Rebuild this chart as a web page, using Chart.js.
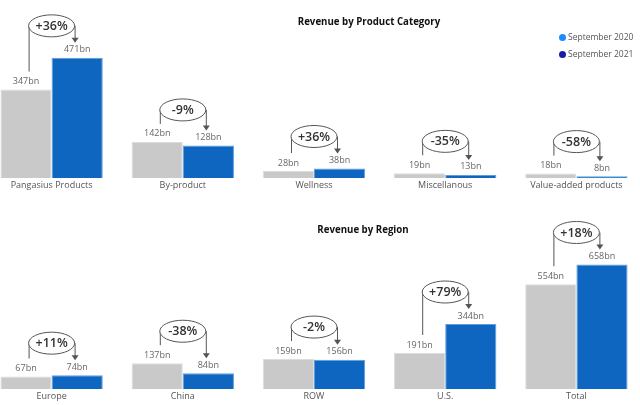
<!DOCTYPE html>
<html>
<head>
<meta charset="utf-8">
<script src="https://cdn.jsdelivr.net/npm/chart.js@4/dist/chart.umd.min.js"></script>
<style>
  html, body { margin: 0; padding: 0; background: #fff; overflow: hidden; }
  body { width: 640px; height: 405px; position: relative; font-family: "Open Sans", sans-serif; }
  .panel { position: absolute; left: -14px; width: 656px; }
  #topPanel { top: 0; height: 200px; }
  #botPanel { top: 200px; height: 205px; }
  .titulo { position: absolute; font-weight: bold; font-size: 9.7px; color: #111; transform: translate(-50%, -50%); white-space: nowrap; }
  .leyenda { position: absolute; left: 559px; top: 30px; font-size: 8.5px; color: #555; }
  .leyenda div { height: 17px; line-height: 14px; white-space: nowrap; }
  .leyenda span { display: inline-block; width: 7px; height: 7px; border-radius: 50%; margin-right: 2px; vertical-align: -0.5px; }
</style>
</head>
<body>
<div class="panel" id="topPanel"><canvas id="chartCategoria"></canvas></div>
<div class="panel" id="botPanel"><canvas id="chartRegion"></canvas></div>
<div class="titulo" style="left:369px; top:21px;">Revenue by Product Category</div>
<div class="titulo" style="left:363px; top:229px;">Revenue by Region</div>
<div class="leyenda">
  <div><span style="background:#1a8cff"></span>September 2020</div>
  <div><span style="background:#1a1aa6"></span>September 2021</div>
</div>
<script>
const categorias = ['Pangasius Products', 'By-product', 'Wellness', 'Miscellanous', 'Value-added products'];
const cat2020 = [347, 142, 28, 19, 18];
const cat2021 = [471, 128, 38, 13, 8];
const catCambio = ['+36%', '-9%', '+36%', '-35%', '-58%'];

const regiones = ['Europe', 'China', 'ROW', 'U.S.', 'Total'];
const reg2020 = [67, 137, 159, 191, 554];
const reg2021 = [74, 84, 156, 344, 658];
const regCambio = ['+11%', '-38%', '-2%', '+79%', '+18%'];

const fuente = '"Open Sans", sans-serif';

// etiquetas "xxxbn" encima de cada barra + globo con el % de cambio
const etiquetasPlugin = {
    id: 'etiquetas',
    afterDatasetsDraw(chart, args, opts) {
        const ctx = chart.ctx;
        const meta0 = chart.getDatasetMeta(0);
        const meta1 = chart.getDatasetMeta(1);
        ctx.save();
        ctx.font = '9px ' + fuente;
        ctx.fillStyle = '#666';
        ctx.textAlign = 'center';
        ctx.textBaseline = 'middle';
        [meta0, meta1].forEach((meta, d) => {
            meta.data.forEach((bar, i) => {
                const v = chart.data.datasets[d].data[i];
                ctx.fillText(v + 'bn', bar.x, bar.y - 8);
            });
        });

        const cambios = opts.cambios;
        meta0.data.forEach((gris, i) => {
            const azul = meta1.data[i];
            const cx = (gris.x + azul.x) / 2;
            const ey = Math.min(gris.y, azul.y) - 32;
            const rx = 23, ry = 11;
            ctx.strokeStyle = '#555';
            ctx.lineWidth = 1;
            // linea izquierda
            ctx.beginPath();
            ctx.moveTo(cx - rx + 0.5, gris.y - 18);
            ctx.lineTo(cx - rx + 0.5, ey);
            ctx.stroke();
            // linea derecha con flecha
            const punta = azul.y - 15;
            ctx.beginPath();
            ctx.moveTo(cx + rx + 0.5, ey);
            ctx.lineTo(cx + rx + 0.5, punta - 4);
            ctx.stroke();
            ctx.fillStyle = '#555';
            ctx.beginPath();
            ctx.moveTo(cx + rx - 3, punta - 5);
            ctx.lineTo(cx + rx + 4, punta - 5);
            ctx.lineTo(cx + rx + 0.5, punta);
            ctx.closePath();
            ctx.fill();
            // globo
            ctx.beginPath();
            ctx.ellipse(cx, ey, rx, ry, 0, 0, Math.PI * 2);
            ctx.fillStyle = '#fff';
            ctx.fill();
            ctx.stroke();
            ctx.fillStyle = '#333';
            ctx.font = '600 12.5px ' + fuente;
            ctx.fillText(cambios[i], cx, ey + 0.5);
        });
        ctx.restore();
    }
};

function crearGrafica(id, labels, serie2020, serie2021, cambios, maxY, padTop, padBottom) {
    return new Chart(document.getElementById(id), {
        type: 'bar',
        data: {
            labels: labels,
            datasets: [
                { label: 'September 2020', data: serie2020, backgroundColor: '#c9c9c9', borderColor: '#dcdcdc', borderWidth: 1 },
                { label: 'September 2021', data: serie2021, backgroundColor: '#0f66c1', borderColor: '#5d9ee0', borderWidth: 1 }
            ]
        },
        options: {
            responsive: true,
            maintainAspectRatio: false,
            animation: false,
            layout: { padding: { top: padTop, bottom: padBottom, left: 0, right: 0 } },
            datasets: { bar: { categoryPercentage: 0.78, barPercentage: 1.0 } },
            plugins: {
                legend: { display: false },
                tooltip: { enabled: false },
                etiquetas: { cambios: cambios }
            },
            scales: {
                x: {
                    grid: { display: false, drawTicks: false },
                    border: { display: false },
                    ticks: { color: '#555', font: { family: fuente, size: 9 }, padding: 2 }
                },
                y: { display: false, min: 0, max: maxY }
            }
        },
        plugins: [etiquetasPlugin]
    });
}

crearGrafica('chartCategoria', categorias, cat2020, cat2021, catCambio, 580, 30, 7);
crearGrafica('chartRegion', regiones, reg2020, reg2021, regCambio, 840, 30, 1);
</script>
</body>
</html>
